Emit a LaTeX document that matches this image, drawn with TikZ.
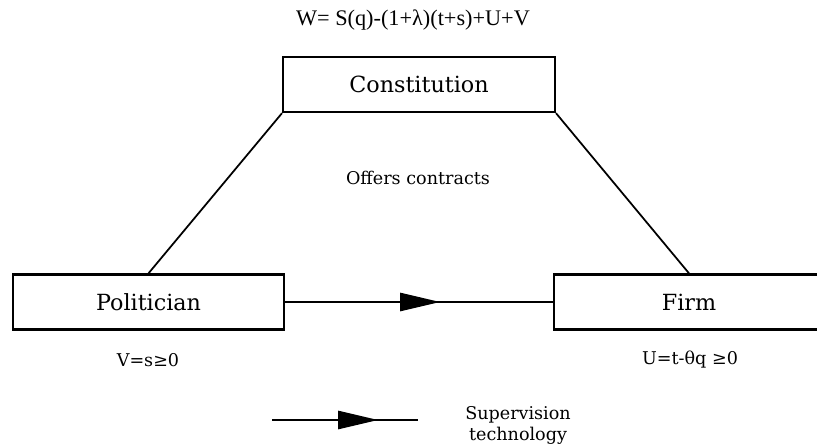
\documentclass[tikz,border=0pt]{standalone}
\usepackage{fontspec}
\setmainfont{DejaVu Serif}
\newfontfamily\wfont{Liberation Serif}
\usetikzlibrary{arrows.meta}
\tikzset{
    box/.style={draw, line width=2pt, minimum height=1.65cm, font=\fontsize{19}{22}\selectfont},
    label/.style={font=\fontsize{15}{18}\selectfont, align=center},
    bigtip/.style={-{Triangle[length=1.2cm, width=0.55cm]}}
}
\begin{document}
\begin{tikzpicture}[x=0.03cm, y=-0.03cm]
            \useasboundingbox (0, 0) rectangle (817, 447);
            \clip (0, 0) rectangle (817, 447);

            \node[font=\wfont\fontsize{19}{22}\selectfont] (welfare) at (413, 20) {W= S(q)-(1+λ)(t+s)+U+V};

            \node[box, minimum width=8.15cm] (const) at (419, 84.5) {Constitution};
            \node[box, minimum width=8.13cm] (pol) at (148.5, 302) {Politician};
            \node[box, minimum width=8.1cm] (firm) at (689, 302) {Firm};

            \node[label] (offers) at (418, 178) {Offers contracts};
            \node[label] (vlabel) at (148, 360) {V=s≥0};
            \node[label] (ulabel) at (690, 360) {U=t-θq ≥0};

            \draw[line width=1.5pt] (const.south west) -- (pol.north);
            \draw[line width=1.5pt] (const.south east) -- (firm.north);

            \coordinate (mid) at (440, 302);
            \draw[line width=1.5pt] (pol.east) -- (firm.west);
            \draw[line width=1.5pt, bigtip] (pol.east) -- (mid);

            % legend
            \coordinate (legstart) at (272, 420);
            \coordinate (legtip) at (378, 420);
            \coordinate (legend) at (418, 420);
            \draw[line width=1.5pt] (legstart) -- (legend);
            \draw[line width=1.5pt, bigtip] (legstart) -- (legtip);
            \node[label, font=\fontsize{15}{18}\selectfont] (suptech) at (518, 425) {Supervision\\technology};
        \end{tikzpicture}
\end{document}
